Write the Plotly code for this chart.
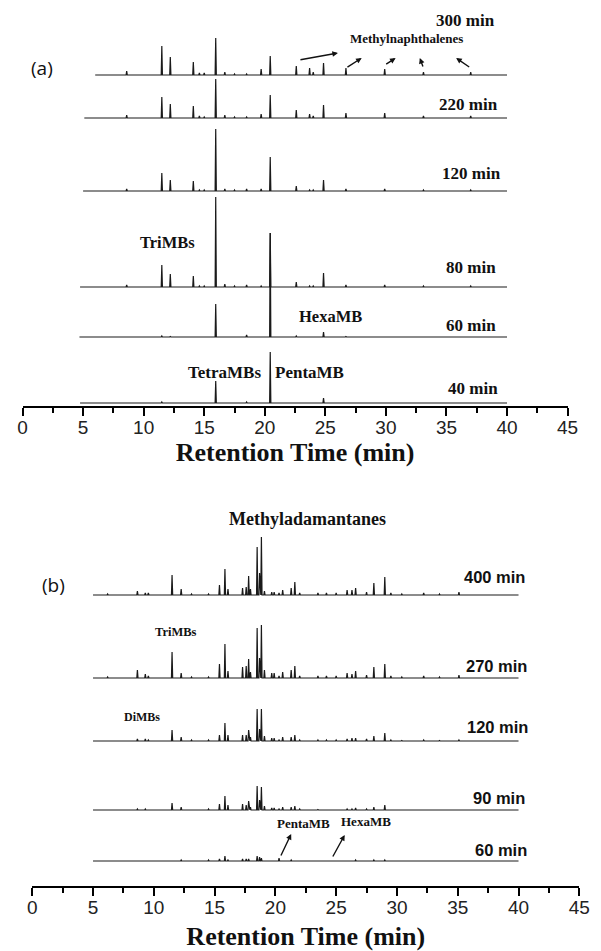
import plotly.graph_objects as go

# ---------------- Panel (a) data ----------------
rt_a = [8.6, 11.5, 12.2, 14.1, 14.6, 15.0, 15.95, 16.7, 17.5, 18.5, 19.7, 20.45,
        22.6, 23.7, 24.0, 24.85, 26.7, 29.9, 33.1, 37.0]
labels_a = ["300 min", "220 min", "120 min", "80 min", "60 min", "40 min"]
start_a = [6.0, 5.1, 5.0, 4.75, 4.7, 4.75]
h_300 = [4, 29, 18, 13, 2, 2, 37, 3, 1, 1, 6, 19, 9, 7, 3, 12, 7, 6, 3, 3]
h_220 = [3, 21, 14, 12, 2, 1, 39, 3, 1, 1, 4, 23, 8, 4, 2, 13, 5, 5, 2, 2]
h_120 = [2, 18, 11, 10, 1, 1, 62, 2, 1, 2, 2, 34, 5, 1, 1, 11, 2, 2, 1, 1]
h_80 = [2, 22, 13, 11, 1, 1, 90, 3, 1, 2, 1, 54, 5, 1, 1, 14, 2, 2, 1, 1]
h_60 = [0, 1, 0.5, 0.5, 0.5, 0, 33, 0, 0, 2, 0, 104, 1, 0, 0, 5, 0.5, 0, 0, 0]
h_40 = [0, 1, 0, 0, 0, 0, 22, 0, 0, 1, 0, 51, 0, 0, 0, 5, 0, 0, 0, 0]
heights_a = [h_300, h_220, h_120, h_80, h_60, h_40]

# ---------------- Panel (b) data ----------------
rt_b = [6.2, 8.65, 9.3, 9.55, 11.5, 12.25, 13.1, 14.5, 15.4, 15.85, 16.1, 17.3,
        17.6, 17.8, 17.95, 18.5, 18.7, 18.85, 19.1, 19.7, 19.9, 20.3, 20.6, 21.3,
        21.6, 22.0, 23.5, 24.2, 25.0, 25.9, 26.3, 26.6, 27.5, 28.1, 29.0, 29.5,
        30.4, 32.2, 33.5, 35.1]
labels_b = ["400 min", "270 min", "120 min", "90 min", "60 min"]
g_400 = [1, 4, 2, 2, 20, 6, 1, 1, 10, 26, 6, 7, 8, 19, 6, 48, 22, 58, 4, 3, 3, 2, 5, 7,
         13, 2, 2, 2, 2, 5, 5, 7, 3, 12, 18, 2, 1, 2, 1, 3]
g_270 = [1, 8, 4, 2, 26, 5, 1, 1, 14, 34, 7, 11, 12, 19, 6, 50, 20, 53, 8, 5, 5, 2, 6, 8,
         12, 2, 2, 2, 2, 5, 4, 7, 3, 11, 14, 2, 1, 2, 1, 3]
g_120 = [0.5, 2, 2, 1, 11, 4, 1, 1, 6, 18, 6, 6, 6, 11, 4, 32, 12, 32, 5, 3, 3, 1, 4, 4,
         6, 1, 1, 1, 1, 2, 3, 3, 2, 5, 8, 1, 0.5, 1, 0.5, 1]
g_90 = [0, 1, 1, 0.5, 7, 3, 0.5, 1, 6, 14, 5, 6, 5, 9, 3, 24, 10, 23, 4, 2, 2, 1, 3, 3,
        4, 1, 0.5, 0.5, 0.5, 1, 1, 2, 1, 3, 5, 0.5, 0, 0.5, 0, 0.5]
g_60 = [0, 0, 0, 0, 0.5, 1, 0, 1, 2, 5, 1, 2, 2, 2, 0, 5, 4, 3, 0, 0, 0, 3, 0, 1,
        0, 0, 0, 0, 0, 0, 0, 1, 0, 1, 1, 0, 0, 0, 0, 0]
heights_b = [g_400, g_270, g_120, g_90, g_60]

x_ticks = list(range(0, 50, 5))

# ---------------- layout helpers (pixel-based vertical stacking) ----------------
W, H = 601, 951
A_AXIS_PX, B_AXIS_PX, B_TOP_PX = 406, 886, 460
offsets_a = [331, 288, 215, 119, 69, 3]
offsets_b = [291, 208, 145, 76, 25]
PEAK_W = 0.05


def trace_xy(times, heights, start, end, base):
    xs, ys = [start], [base]
    for t, h in sorted(zip(times, heights)):
        if h > 0:
            xs += [t - PEAK_W, t, t + PEAK_W]
            ys += [base, base + h, base]
    xs.append(end)
    ys.append(base)
    return xs, ys


fig = go.Figure()
for name, hs, st, off in zip(labels_a, heights_a, start_a, offsets_a):
    xs, ys = trace_xy(rt_a, hs, st, 40.0, off)
    fig.add_trace(go.Scatter(x=xs, y=ys, mode="lines", name=name,
                             line=dict(color="#1a1a1a", width=1.2),
                             xaxis="x", yaxis="y", hoverinfo="skip"))
for name, hs, off in zip(labels_b, heights_b, offsets_b):
    xs, ys = trace_xy(rt_b, hs, 5.0, 40.0, off)
    fig.add_trace(go.Scatter(x=xs, y=ys, mode="lines", name=name,
                             line=dict(color="#1a1a1a", width=1.2),
                             xaxis="x2", yaxis="y2", hoverinfo="skip"))


def axis_style(standoff):
    return dict(
        range=[0, 45], tickvals=x_ticks, showline=True, linecolor="black", linewidth=1.5,
        ticks="outside", ticklen=8, tickwidth=1.5, tickcolor="black",
        minor=dict(ticks="outside", ticklen=5, tickwidth=1.5, dtick=2.5, tick0=0,
                   tickcolor="black", showgrid=False),
        showgrid=False, zeroline=False, ticklabelstandoff=-5,
        tickfont=dict(family="Liberation Sans", size=19, color="#222"),
        title=dict(text="<b>Retention Time (min)</b>",
                   font=dict(family="Liberation Serif", size=26, color="#111"),
                   standoff=standoff),
    )


fig.update_layout(
    width=W, height=H, margin=dict(l=0, r=0, t=0, b=0),
    paper_bgcolor="white", plot_bgcolor="white", showlegend=False,
    xaxis=dict(domain=[18 / W, 578 / W], anchor="y", **axis_style(0)),
    yaxis=dict(domain=[1 - A_AXIS_PX / H, 1], range=[0, A_AXIS_PX], visible=False),
    xaxis2=dict(domain=[28 / W, 590 / W], anchor="y2", **axis_style(10)),
    yaxis2=dict(domain=[1 - B_AXIS_PX / H, 1 - B_TOP_PX / H],
                range=[0, B_AXIS_PX - B_TOP_PX], visible=False),
)

serif = "Liberation Serif"
sans = "Liberation Sans"


def note(text, x, y, size, family, ax="x", ay="y", color="#111"):
    fig.add_annotation(text=text, x=x, y=y, xref=ax, yref=ay, showarrow=False,
                       font=dict(family=family, size=size, color=color))


def arrow(x0, y0, x1, y1, ax="x", ay="y"):
    fig.add_annotation(text="", x=x1, y=y1, ax=x0, ay=y0, xref=ax, yref=ay,
                       axref=ax, ayref=ay, showarrow=True, arrowhead=2,
                       arrowsize=0.8, arrowwidth=1.4, arrowcolor="#111")


# Panel (a) labels
note("(a)", 1.6, 338, 19, "Open Sans")
a_label_pos = [(36.6, 386), (36.8, 302), (37.1, 233), (37.0, 139), (37.0, 81), (37.2, 18)]
for t, (x, y) in zip(labels_a, a_label_pos):
    note(f"<b>{t}</b>", x, y, 17, serif)
note("<b>Methylnaphthalenes</b>", 31.7, 368, 13, serif)
note("<b>TriMBs</b>", 12.0, 164, 16.5, serif)
note("<b>HexaMB</b>", 25.4, 90, 16.5, serif)
note("<b>TetraMBs</b>", 16.7, 34, 17, serif)
note("<b>PentaMB</b>", 23.7, 34, 17, serif)
arrow(22.82, 346, 26.04, 353)
arrow(26.7, 338, 28.0, 348)
arrow(29.9, 341, 30.8, 348)
arrow(33.1, 338, 32.8, 348)
arrow(37.0, 338, 35.8, 348)

# Panel (b) labels
note("(b)", 1.76, 301, 19, "Open Sans", "x2", "y2")
b_label_pos = [(38.0, 309), (38.2, 220), (38.3, 159), (38.4, 88), (38.6, 36)]
for t, (x, y) in zip(labels_b, b_label_pos):
    note(f"<b>{t}</b>", x, y, 16.5, sans, "x2", "y2")
note("<b>Methyladamantanes</b>", 22.66, 367, 18, serif, "x2", "y2")
note("<b>TriMBs</b>", 11.85, 254, 12.5, serif, "x2", "y2")
note("<b>DiMBs</b>", 9.05, 169, 12, serif, "x2", "y2")
note("<b>PentaMB</b>", 22.34, 63, 13, serif, "x2", "y2")
note("<b>HexaMB</b>", 27.46, 65, 13, serif, "x2", "y2")
arrow(20.4, 29, 21.3, 52, "x2", "y2")
arrow(24.66, 28, 25.7, 51, "x2", "y2")

fig.write_html("out.html", config={"displayModeBar": False},
               post_script="document.body.style.margin='0px';")
